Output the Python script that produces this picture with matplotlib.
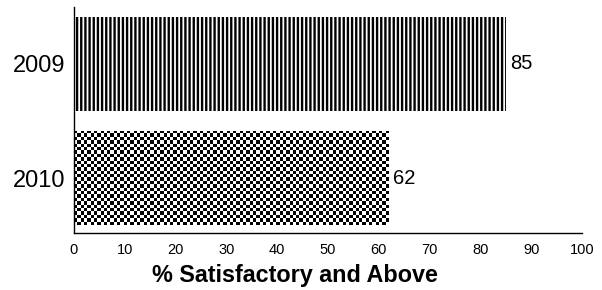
import numpy as np
import matplotlib
matplotlib.use("Agg")
from matplotlib import pyplot as plt

plt.rcParams['font.family'] = ['Liberation Sans', 'DejaVu Sans']
plt.rcParams['hatch.linewidth'] = 1.7

# data
years = ['2010', '2009']
values = [62, 85]
xticks = [0, 10, 20, 30, 40, 50, 60, 70, 80, 90, 100]

fig = plt.figure(figsize=(6.02, 2.90), dpi=100)
ax = fig.add_axes([74/602, 57/290, 508/602, 226/290])

pos = np.arange(len(years))
bars = ax.barh(pos, values, height=0.83, color='white', edgecolor='black', linewidth=0)
bars[1].set_hatch('||||')

ax.set_xlim(0, 100)
ax.set_ylim(-0.481, 1.499)

# checkerboard fill for 2010, clipped to the bar
b = bars[0]
ext = b.get_window_extent()
nx = int(ext.width / 3.3)
ny = int(ext.height / 3.3)
cells = np.indices((ny, nx)).sum(axis=0) % 2
im = ax.imshow(cells, cmap='gray', interpolation='nearest', aspect='auto', zorder=2,
               extent=(b.get_x(), b.get_x() + b.get_width(), b.get_y(), b.get_y() + b.get_height()))
im.set_clip_path(b)
ax.set_xlim(0, 100)
ax.set_ylim(-0.481, 1.499)

for rect, v in zip(bars, values):
    ax.text(rect.get_width() + 0.8, rect.get_y() + rect.get_height()/2, str(v),
            va='center', ha='left', fontsize=14.5)

ax.set_yticks(pos)
ax.set_yticklabels(years, fontsize=17)
ax.set_xticks(xticks)
ax.set_xticklabels([str(t) for t in xticks], fontsize=10.5)
ax.tick_params(axis='both', length=0)
ax.tick_params(axis='x', pad=7)
ax.tick_params(axis='y', pad=6)

for s in ['top', 'right']:
    ax.spines[s].set_visible(False)
ax.spines['left'].set_linewidth(1.0)
ax.spines['bottom'].set_linewidth(1.0)

ax.set_xlabel('% Satisfactory and Above', fontsize=16.8, fontweight='bold')
ax.xaxis.set_label_coords((295-74)/508, -0.186)
ax.xaxis.label.set_va('center')

fig.savefig('out.png', dpi=100)
